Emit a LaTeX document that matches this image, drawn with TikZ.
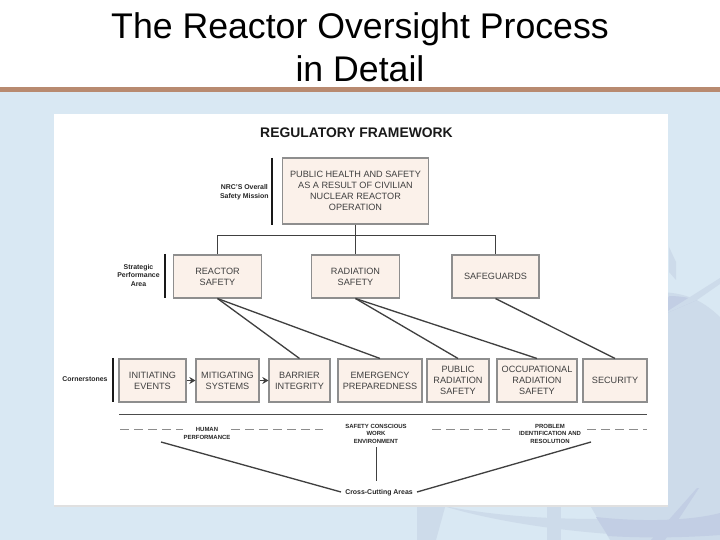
\documentclass[tikz,border=0pt]{standalone}
\usepackage{fontspec}
\setmainfont{Liberation Sans}
\usetikzlibrary{arrows.meta,shadows}
\definecolor{slideblue}{HTML}{D9E8F3}
\definecolor{swoosh}{HTML}{CDDBEA}
\definecolor{swooshdark}{HTML}{C2CEE4}
\definecolor{titlebar}{HTML}{B88A70}
\definecolor{boxfill}{HTML}{FBF1EA}
\definecolor{boxline}{HTML}{8E8E8E}
\definecolor{boxtext}{HTML}{404040}
\tikzset{
	framebox/.style={draw=boxline, fill=boxfill, line width=0.6pt, inner sep=0pt, align=center,
		text=boxtext, font=\fontsize{5.2}{6.2}\selectfont,
		general shadow={fill=gray!75, shadow xshift=0.35pt, shadow yshift=-0.35pt}},
	sidelabel/.style={inner sep=0pt, align=center, text=black!85, font=\fontsize{3.95}{4.9}\bfseries\selectfont},
	smalllabel/.style={inner sep=0pt, align=center, text=black!85, font=\fontsize{3.4}{4.25}\bfseries\selectfont},
	sidebar/.style={line width=1.6pt, black!90},
	link/.style={line width=0.75pt, black!75},
	rule/.style={line width=0.7pt, black!70},
	dashrule/.style={line width=0.8pt, black!45, dash pattern=on 5pt off 3pt}
}
\begin{document}
\begin{tikzpicture}[x=0.02cm, y=-0.02cm]
	\useasboundingbox (0,0) rectangle (720,540);

	% slide background
	\fill[slideblue] (0,92) rectangle (720,540);
	\fill[swoosh] (660,292) .. controls (690,293) and (705,303) .. (720,317) -- (720,540) -- (610,540) -- (587,500) -- (660,500) -- cycle;
	\fill[swoosh] (669,247) -- (676,262) -- (676,280) -- (669,272) -- cycle;
	\fill[swooshdark] (660,316) -- (669,296) .. controls (680,296) and (690,298) .. (697,300) -- cycle;
	\fill[swoosh] (660,316) -- (720,278) -- (720,284) -- (697,300) -- cycle;
	\fill[swoosh] (417,500) -- (447,500) -- (436,540) -- (417,540) -- cycle;
	\fill[swoosh] (440,505) .. controls (500,518) and (600,525) .. (720,512) -- (720,536) .. controls (640,540) and (520,530) .. (440,505) -- cycle;
	\fill[swoosh] (547,500) rectangle (561,540);
	\fill[swooshdark] (596,517) .. controls (640,522) and (690,521) .. (720,513) -- (720,535) .. controls (680,538) and (640,538) .. (608,536) -- cycle;
	\fill[swooshdark] (697,488) -- (699,488) -- (665,540) -- (651,540) -- cycle;
	\fill[black!12] (54,505) rectangle (668,507);
	\fill[white] (54,114) rectangle (668,505);

	% title
	\fill[titlebar] (0,87) rectangle (720,92);
	\node[inner sep=0pt, align=center, font=\fontsize{20.3}{24.4}\selectfont] (title) at (360,47) {The Reactor Oversight Process\\in Detail};
	\node[inner sep=0pt, text=black!90, font=\fontsize{7.9}{9}\bfseries\selectfont] (heading) at (356.5,133) {REGULATORY FRAMEWORK};

	% boxes
	\node[framebox, minimum width=2.92cm, minimum height=1.32cm] (mission) at (355.5,191) {PUBLIC HEALTH AND SAFETY\\AS A RESULT OF CIVILIAN\\NUCLEAR REACTOR\\OPERATION};
	\node[framebox, minimum width=1.76cm, minimum height=0.86cm] (reactor) at (217.5,276.5) {REACTOR\\SAFETY};
	\node[framebox, minimum width=1.76cm, minimum height=0.86cm] (radiation) at (355.5,276.5) {RADIATION\\SAFETY};
	\node[framebox, minimum width=1.74cm, minimum height=0.86cm] (safeguards) at (495.5,276.5) {SAFEGUARDS};
	\node[framebox, minimum width=1.34cm, minimum height=0.86cm] (initiating) at (152.5,380.5) {INITIATING\\EVENTS};
	\node[framebox, minimum width=1.26cm, minimum height=0.86cm] (mitigating) at (227.5,380.5) {MITIGATING\\SYSTEMS};
	\node[framebox, minimum width=1.22cm, minimum height=0.86cm] (barrier) at (299.5,380.5) {BARRIER\\INTEGRITY};
	\node[framebox, minimum width=1.68cm, minimum height=0.86cm] (emergency) at (380,380.5) {EMERGENCY\\PREPAREDNESS};
	\node[framebox, minimum width=1.24cm, minimum height=0.86cm] (public) at (458,380.5) {PUBLIC\\RADIATION\\SAFETY};
	\node[framebox, minimum width=1.60cm, minimum height=0.86cm] (occupational) at (537,380.5) {OCCUPATIONAL\\RADIATION\\SAFETY};
	\node[framebox, minimum width=1.28cm, minimum height=0.86cm] (security) at (615,380.5) {SECURITY};

	% labels
	\node[sidelabel, anchor=east] (overall) at (269,192.5) {NRC'S Overall\\Safety Mission};
	\node[sidelabel] (strategic) at (138.5,275.5) {Strategic\\Performance\\Area};
	\node[sidelabel] (cornerstones) at (85,379.5) {Cornerstones};
	\node[smalllabel] (human) at (207,433.5) {HUMAN\\PERFORMANCE};
	\node[smalllabel] (conscious) at (376,433.5) {SAFETY CONSCIOUS\\WORK\\ENVIRONMENT};
	\node[smalllabel] (problem) at (550,433.5) {PROBLEM\\IDENTIFICATION AND\\RESOLUTION};
	\node[sidelabel] (crosscutting) at (379,492.5) {Cross-Cutting Areas};

	% tree
	\coordinate (fork) at (355.5,235.5);
	\draw[link] (mission.south) -- (radiation.north);
	\draw[link] (reactor.north) |- (fork) -| (safeguards.north);

	\foreach \i / \j in {
	reactor/barrier,
	reactor/emergency,
	radiation/public,
	radiation/occupational,
	safeguards/security}
	{
		\path[link] (\i.south) edge (\j.north);
	};
	\foreach \i / \j in {
	initiating/mitigating,
	mitigating/barrier}
	{
		\draw[link, -{Stealth[length=3.5pt, width=4pt]}] (\i) -- (\j);
	};

	% side bars
	\coordinate (bar1a) at (272,158);
	\coordinate (bar1b) at (272,225);
	\coordinate (bar2a) at (165,254);
	\coordinate (bar2b) at (165,298);
	\coordinate (bar3a) at (113,358);
	\coordinate (bar3b) at (113,402);
	\foreach \i in {1,...,3}
	{
		\draw[sidebar] (bar\i a) -- (bar\i b);
	};

	% rules below the cornerstones
	\coordinate (rulea) at (119,414.5);
	\coordinate (ruleb) at (647,414.5);
	\draw[rule] (rulea) -- (ruleb);
	\coordinate (dasha) at (120,429.5);
	\coordinate (dashb) at (183,429.5);
	\coordinate (dashc) at (231,429.5);
	\coordinate (dashd) at (323,429.5);
	\coordinate (dashe) at (432,429.5);
	\coordinate (dashf) at (510,429.5);
	\coordinate (dashg) at (587,429.5);
	\coordinate (dashh) at (647,429.5);
	\foreach \i / \j in {a/b, c/d, e/f, g/h}
	{
		\draw[dashrule] (dash\i) -- (dash\j);
	};

	% cross-cutting lines
	\coordinate (crossl) at (161,442);
	\coordinate (crossm) at (376.5,447);
	\coordinate (crossr) at (591,442);
	\coordinate (crossla) at (341,492);
	\coordinate (crossma) at (376.5,481);
	\coordinate (crossra) at (417,492);
	\foreach \i / \j in {l/la, m/ma, r/ra}
	{
		\draw[link] (cross\i) -- (cross\j);
	};
\end{tikzpicture}
\end{document}
